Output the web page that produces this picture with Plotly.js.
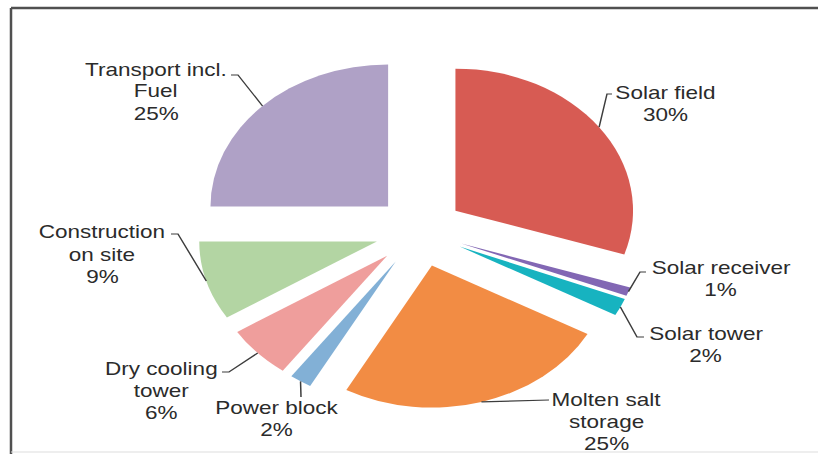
<!DOCTYPE html>
<html><head><meta charset="utf-8">
<script src="https://cdn.plot.ly/plotly-3.0.1.min.js"></script>
<style>
html,body{margin:0;padding:0;background:#fff;overflow:hidden}
#wrap{width:818px;height:454px;overflow:hidden;position:relative}
#chart{width:654px;height:454px;transform:scaleX(1.25076);transform-origin:0 0}
</style>
</head><body><div id="wrap"><div id="chart"></div></div>
<script>
// ---- data ----
const categories = ['Solar field','Solar receiver','Solar tower','Molten salt storage','Power block','Dry cooling tower','Construction on site','Transport incl. Fuel'];
const values = [30, 1, 2, 25, 2, 6, 9, 25];
const labelLines = [['Solar field'],['Solar receiver'],['Solar tower'],['Molten salt','storage'],['Power block'],['Dry cooling','tower'],['Construction','on site'],['Transport incl.','Fuel']];
const colors = ['#d75b53','#8267b4','#17b3c0','#f28c44','#82b0d6','#ef9e9c','#b3d5a3','#afa1c6'];

// ---- layout constants (reference pixel space is 818 wide; div is 654 wide, stretched) ----
const W = 654, H = 454, S = 818 / W;
const R = 142, PULL = 0.25, CX = 335.4, CY = 231.5;
const boxH = 2 * R * (1 + PULL), boxW = 400;
const domX = [(CX - boxW / 2) / W, (CX + boxW / 2) / W];
const domY = [1 - (CY + boxH / 2) / H, 1 - (CY - boxH / 2) / H];
const LINE_GAP = 22, FONT_SIZE = 18;

// label text centre x and cap-top y (reference px)
const labelPos = [[666,85],[721,260],[706,326],[606,392],[277,400],[161,361],[102,225],[156,62]];
// leader elbow points after the slice anchor (reference px)
const leaderPts = [
  [[607,94],[612,94]],
  [[640,272],[646,272]],
  [[637,337],[644,337]],
  [[549,400]],
  [[301,397]],
  [[229,372],[222,372]],
  [[178,234],[171,234]],
  [[238,75],[231,75]]
];

const total = values.reduce((a, b) => a + b, 0);
const px = x => x / W, py = y => 1 - y / H;

const annotations = [];
const shapes = [];
let cum = 0;
values.forEach((v, i) => {
  const mid = (cum + v / 2) / total * 2 * Math.PI;
  cum += v;
  const rr = R * (1 + PULL);
  const ax = CX + rr * Math.sin(mid), ay = CY - rr * Math.cos(mid);
  let path = 'M ' + px(ax) + ' ' + py(ay);
  leaderPts[i].forEach(p => { path += ' L ' + px(p[0] / S) + ' ' + py(p[1]); });
  shapes.push({type: 'path', xref: 'paper', yref: 'paper', path: path, line: {color: '#3d3d3d', width: 1.2}, layer: 'above'});
  const lines = labelLines[i].concat([v + '%']);
  lines.forEach((t, k) => {
    annotations.push({
      xref: 'paper', yref: 'paper', x: px(labelPos[i][0] / S), y: py(labelPos[i][1] - 4.5 + k * LINE_GAP),
      xanchor: 'center', yanchor: 'top', showarrow: false, align: 'center',
      text: t, font: {family: 'Liberation Sans, Arial, sans-serif', size: FONT_SIZE, color: '#2b2b2b'}
    });
  });
});

// frame
shapes.push({type: 'line', xref: 'paper', yref: 'paper', x0: px(11 / S), x1: 1, y0: py(8), y1: py(8), line: {color: '#505050', width: 2.5}});
shapes.push({type: 'line', xref: 'paper', yref: 'paper', x0: px(11 / S), x1: px(11 / S), y0: py(8), y1: 0, line: {color: '#505050', width: 2}});
shapes.push({type: 'line', xref: 'paper', yref: 'paper', x0: px(11 / S), x1: 1, y0: py(452), y1: py(452), line: {color: '#dddddd', width: 1}});

const trace = {
  type: 'pie', labels: categories, values: values, sort: false, direction: 'clockwise', rotation: 0,
  pull: values.map(() => PULL), marker: {colors: colors, line: {width: 0}},
  textinfo: 'none', hoverinfo: 'none', showlegend: false, domain: {x: domX, y: domY}
};

Plotly.newPlot('chart', [trace], {
  width: W, height: H, autosize: false, margin: {l: 0, r: 0, t: 0, b: 0},
  paper_bgcolor: '#ffffff', plot_bgcolor: '#ffffff', showlegend: false,
  annotations: annotations, shapes: shapes
}, {staticPlot: true, displayModeBar: false});
</script>
</body></html>
